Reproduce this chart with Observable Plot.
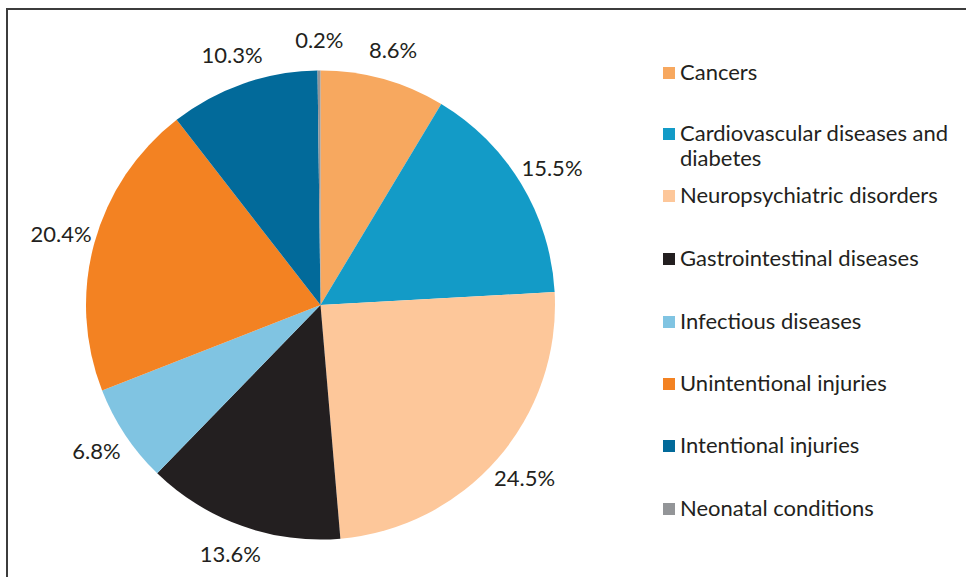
<!DOCTYPE html>
<html><head><meta charset="utf-8">
<script src="https://cdn.jsdelivr.net/npm/d3@7"></script>
<script src="https://cdn.jsdelivr.net/npm/@observablehq/plot@0.6"></script>
<style>
body{margin:0;background:#fff;}
#wrap{position:relative;width:966px;height:577px;overflow:hidden;font-family:Lato,sans-serif;color:#231f20;}
#frame{position:absolute;left:6px;top:8px;width:2000px;height:2000px;border-top:2px solid #3c3c3c;border-left:2px solid #3c3c3c;}
#chart{position:absolute;left:0;top:0;}
.leg{position:absolute;left:663px;font-size:22px;line-height:25px;width:310px;white-space:nowrap;}
.sw{position:absolute;left:0;top:8px;width:12px;height:12px;}
.lt{margin-left:17px;}
</style></head><body><div id="wrap"><div id="frame"></div><div id="chart"></div></div>
<script>
const categories = ["Cancers","Cardiovascular diseases and diabetes","Neuropsychiatric disorders","Gastrointestinal diseases","Infectious diseases","Unintentional injuries","Intentional injuries","Neonatal conditions"];
const legendLines = [["Cancers"],["Cardiovascular diseases and","diabetes"],["Neuropsychiatric disorders"],["Gastrointestinal diseases"],["Infectious diseases"],["Unintentional injuries"],["Intentional injuries"],["Neonatal conditions"]];
const values = [8.6,15.5,24.5,13.6,6.8,20.4,10.3,0.2];
const labels = ["8.6%","15.5%","24.5%","13.6%","6.8%","20.4%","10.3%","0.2%"];
const colors = ["#f7a85f","#139bc7","#fdc79a","#231f20","#80c4e2","#f38222","#026a9a","#939598"];

const data = categories.map((c,i)=>({category:c, value:values[i], label:labels[i]}));
const arcs = d3.pie().sort(null).value(d=>d.value)(data);
const labelData = arcs.map(a=>{const m=(a.startAngle+a.endAngle)/2; return {label:a.data.label, x:Math.sin(m)*1.15, y:Math.cos(m)*1.13};});

function pieMark(...args){
  const scales = args.find(a=>a && typeof a.x==="function" && typeof a.y==="function");
  const cx = scales.x(0), cy = scales.y(0), r = Math.abs(scales.x(1)-scales.x(0));
  const col = scales.color || (c=>colors[categories.indexOf(c)]);
  const g = d3.create("svg:g").attr("transform",`translate(${cx},${cy})`);
  const arc = d3.arc().innerRadius(0).outerRadius(r);
  g.selectAll("path").data(arcs).join("path").attr("d",arc).attr("fill",d=>col(d.data.category));
  return g.node();
}

const plot = Plot.plot({
  width:966, height:577, margin:0,
  x:{domain:[-1,1], range:[86,555], axis:null},
  y:{domain:[-1,1], range:[539,71], axis:null},
  color:{domain:categories, range:colors},
  style:{background:"transparent", fontFamily:"Lato, sans-serif"},
  marks:[
    Plot.dot(data,{x:()=>0,y:()=>0,r:0,fill:"category"}),
    pieMark,
    Plot.text(labelData,{x:"x",y:"y",text:"label",fontSize:22,fill:"#231f20"})
  ]
});
document.getElementById("chart").appendChild(plot);

const tops = [59,120,182,245,308,370,432,495];
const wrap = document.getElementById("wrap");
legendLines.forEach((lines,i)=>{
  const d = document.createElement("div");
  d.className="leg"; d.style.top=tops[i]+"px";
  d.innerHTML = `<div class="sw" style="background:${colors[i]}"></div><div class="lt">${lines.join("<br>")}</div>`;
  wrap.appendChild(d);
});
</script>
</body></html>
